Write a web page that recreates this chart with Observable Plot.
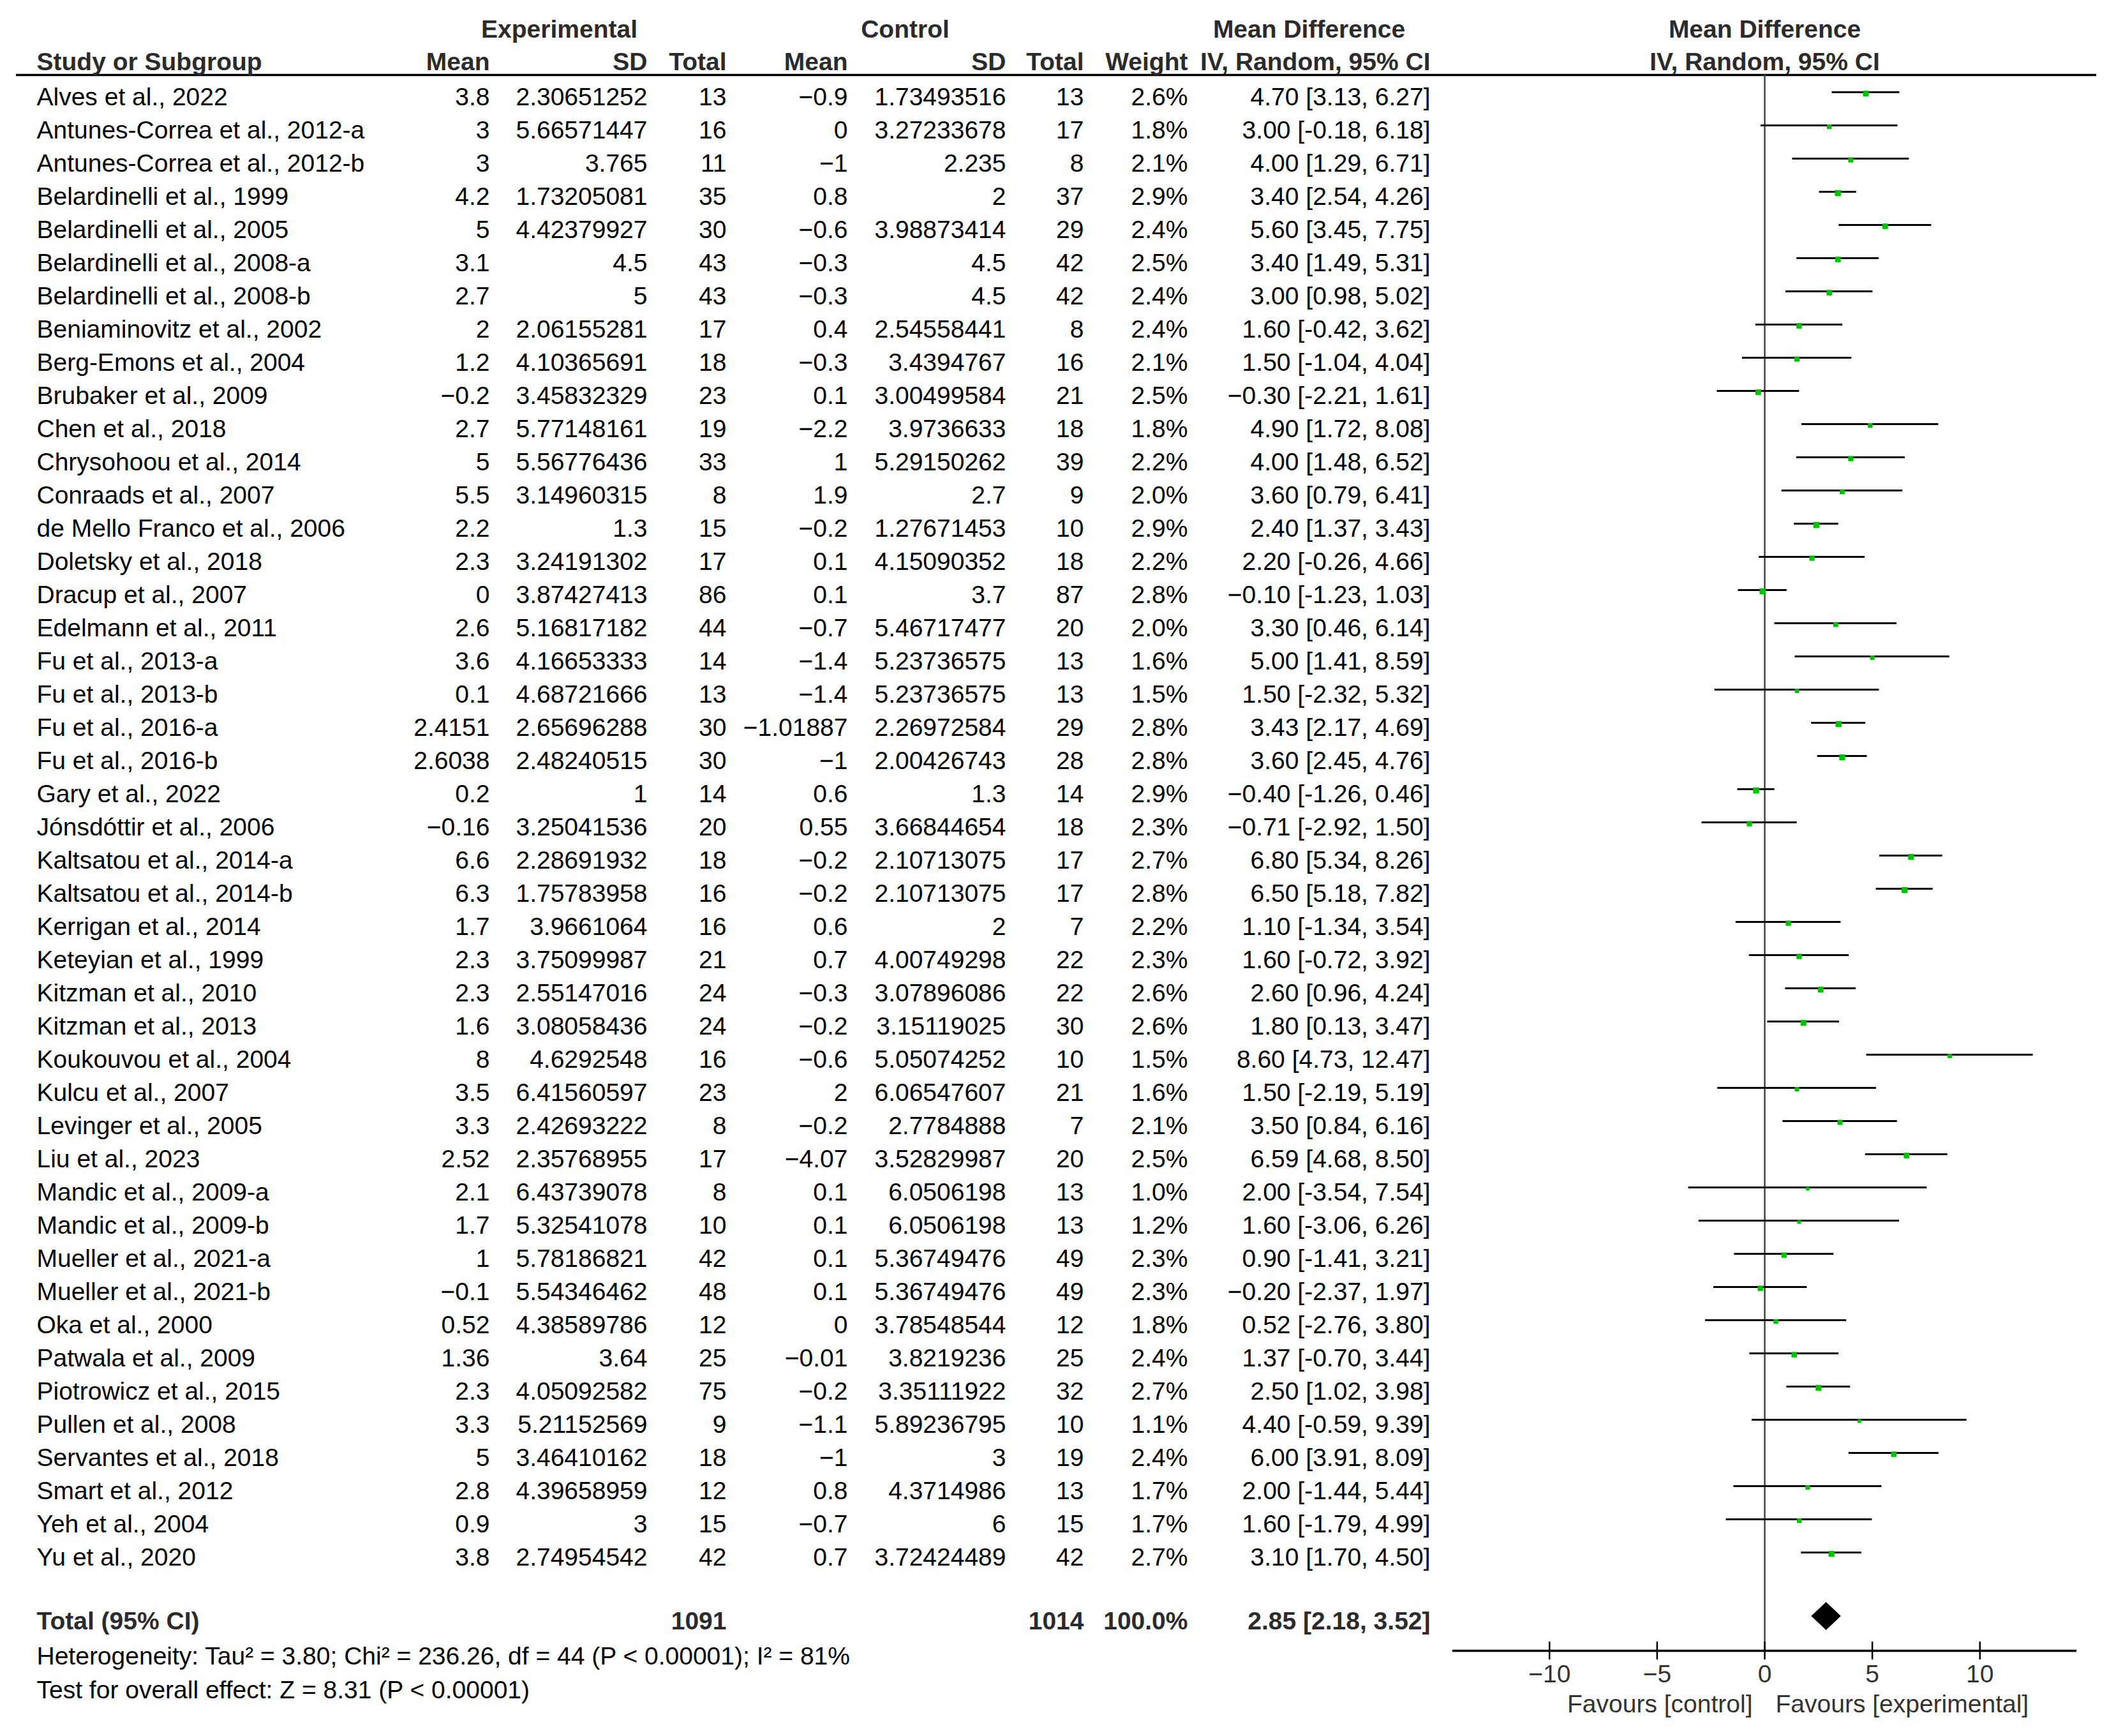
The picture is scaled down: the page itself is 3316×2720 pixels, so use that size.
<!DOCTYPE html>
<html>
<head>
<meta charset="utf-8">
<script src="https://cdn.jsdelivr.net/npm/d3@7"></script>
<script src="https://cdn.jsdelivr.net/npm/@observablehq/plot@0.6"></script>
<style>
html, body { margin: 0; padding: 0; background: #fff; }
#chart { position: relative; width: 3316px; height: 2720px; background: #fff; }
#chart svg { position: absolute; left: 0; top: 0; max-width: none; }
</style>
</head>
<body>
<div id="chart"></div>
<script>
// ---------------- DATA ----------------
const studies = [
  "Alves et al., 2022", "Antunes-Correa et al., 2012-a", "Antunes-Correa et al., 2012-b",
  "Belardinelli et al., 1999", "Belardinelli et al., 2005", "Belardinelli et al., 2008-a",
  "Belardinelli et al., 2008-b", "Beniaminovitz et al., 2002", "Berg-Emons et al., 2004",
  "Brubaker et al., 2009", "Chen et al., 2018", "Chrysohoou et al., 2014",
  "Conraads et al., 2007", "de Mello Franco et al., 2006", "Doletsky et al., 2018",
  "Dracup et al., 2007", "Edelmann et al., 2011", "Fu et al., 2013-a", "Fu et al., 2013-b",
  "Fu et al., 2016-a", "Fu et al., 2016-b", "Gary et al., 2022", "Jónsdóttir et al., 2006",
  "Kaltsatou et al., 2014-a", "Kaltsatou et al., 2014-b", "Kerrigan et al., 2014",
  "Keteyian et al., 1999", "Kitzman et al., 2010", "Kitzman et al., 2013",
  "Koukouvou et al., 2004", "Kulcu et al., 2007", "Levinger et al., 2005", "Liu et al., 2023",
  "Mandic et al., 2009-a", "Mandic et al., 2009-b", "Mueller et al., 2021-a",
  "Mueller et al., 2021-b", "Oka et al., 2000", "Patwala et al., 2009",
  "Piotrowicz et al., 2015", "Pullen et al., 2008", "Servantes et al., 2018",
  "Smart et al., 2012", "Yeh et al., 2004", "Yu et al., 2020"
];
const expMean = [3.8, 3, 3, 4.2, 5, 3.1, 2.7, 2, 1.2, -0.2, 2.7, 5, 5.5, 2.2, 2.3, 0, 2.6, 3.6, 0.1,
  2.4151, 2.6038, 0.2, -0.16, 6.6, 6.3, 1.7, 2.3, 2.3, 1.6, 8, 3.5, 3.3, 2.52, 2.1, 1.7, 1, -0.1,
  0.52, 1.36, 2.3, 3.3, 5, 2.8, 0.9, 3.8];
const expSD = [2.30651252, 5.66571447, 3.765, 1.73205081, 4.42379927, 4.5, 5, 2.06155281,
  4.10365691, 3.45832329, 5.77148161, 5.56776436, 3.14960315, 1.3, 3.24191302, 3.87427413,
  5.16817182, 4.16653333, 4.68721666, 2.65696288, 2.48240515, 1, 3.25041536, 2.28691932,
  1.75783958, 3.9661064, 3.75099987, 2.55147016, 3.08058436, 4.6292548, 6.41560597,
  2.42693222, 2.35768955, 6.43739078, 5.32541078, 5.78186821, 5.54346462, 4.38589786, 3.64,
  4.05092582, 5.21152569, 3.46410162, 4.39658959, 3, 2.74954542];
const expN = [13, 16, 11, 35, 30, 43, 43, 17, 18, 23, 19, 33, 8, 15, 17, 86, 44, 14, 13, 30, 30,
  14, 20, 18, 16, 16, 21, 24, 24, 16, 23, 8, 17, 8, 10, 42, 48, 12, 25, 75, 9, 18, 12, 15, 42];
const ctlMean = [-0.9, 0, -1, 0.8, -0.6, -0.3, -0.3, 0.4, -0.3, 0.1, -2.2, 1, 1.9, -0.2, 0.1, 0.1,
  -0.7, -1.4, -1.4, -1.01887, -1, 0.6, 0.55, -0.2, -0.2, 0.6, 0.7, -0.3, -0.2, -0.6, 2, -0.2,
  -4.07, 0.1, 0.1, 0.1, 0.1, 0, -0.01, -0.2, -1.1, -1, 0.8, -0.7, 0.7];
const ctlSD = [1.73493516, 3.27233678, 2.235, 2, 3.98873414, 4.5, 4.5, 2.54558441, 3.4394767,
  3.00499584, 3.9736633, 5.29150262, 2.7, 1.27671453, 4.15090352, 3.7, 5.46717477, 5.23736575,
  5.23736575, 2.26972584, 2.00426743, 1.3, 3.66844654, 2.10713075, 2.10713075, 2, 4.00749298,
  3.07896086, 3.15119025, 5.05074252, 6.06547607, 2.7784888, 3.52829987, 6.0506198, 6.0506198,
  5.36749476, 5.36749476, 3.78548544, 3.8219236, 3.35111922, 5.89236795, 3, 4.3714986, 6,
  3.72424489];
const ctlN = [13, 17, 8, 37, 29, 42, 42, 8, 16, 21, 18, 39, 9, 10, 18, 87, 20, 13, 13, 29, 28, 14,
  18, 17, 17, 7, 22, 22, 30, 10, 21, 7, 20, 13, 13, 49, 49, 12, 25, 32, 10, 19, 13, 15, 42];
const weight = [2.6, 1.8, 2.1, 2.9, 2.4, 2.5, 2.4, 2.4, 2.1, 2.5, 1.8, 2.2, 2.0, 2.9, 2.2, 2.8, 2.0,
  1.6, 1.5, 2.8, 2.8, 2.9, 2.3, 2.7, 2.8, 2.2, 2.3, 2.6, 2.6, 1.5, 1.6, 2.1, 2.5, 1.0, 1.2, 2.3,
  2.3, 1.8, 2.4, 2.7, 1.1, 2.4, 1.7, 1.7, 2.7];
const meanDiff = [4.70, 3.00, 4.00, 3.40, 5.60, 3.40, 3.00, 1.60, 1.50, -0.30, 4.90, 4.00, 3.60,
  2.40, 2.20, -0.10, 3.30, 5.00, 1.50, 3.43, 3.60, -0.40, -0.71, 6.80, 6.50, 1.10, 1.60, 2.60,
  1.80, 8.60, 1.50, 3.50, 6.59, 2.00, 1.60, 0.90, -0.20, 0.52, 1.37, 2.50, 4.40, 6.00, 2.00,
  1.60, 3.10];
const ciLow = [3.13, -0.18, 1.29, 2.54, 3.45, 1.49, 0.98, -0.42, -1.04, -2.21, 1.72, 1.48, 0.79,
  1.37, -0.26, -1.23, 0.46, 1.41, -2.32, 2.17, 2.45, -1.26, -2.92, 5.34, 5.18, -1.34, -0.72,
  0.96, 0.13, 4.73, -2.19, 0.84, 4.68, -3.54, -3.06, -1.41, -2.37, -2.76, -0.70, 1.02, -0.59,
  3.91, -1.44, -1.79, 1.70];
const ciHigh = [6.27, 6.18, 6.71, 4.26, 7.75, 5.31, 5.02, 3.62, 4.04, 1.61, 8.08, 6.52, 6.41, 3.43,
  4.66, 1.03, 6.14, 8.59, 5.32, 4.69, 4.76, 0.46, 1.50, 8.26, 7.82, 3.54, 3.92, 4.24, 3.47,
  12.47, 5.19, 6.16, 8.50, 7.54, 6.26, 3.21, 1.97, 3.80, 3.44, 3.98, 9.39, 8.09, 5.44, 4.99,
  4.50];

const totalExpN = 1091;
const totalCtlN = 1014;
const totalWeight = 100.0;
const totalMD = 2.85;
const totalLow = 2.18;
const totalHigh = 3.52;

const heterogeneityText = "Heterogeneity: Tau² = 3.80; Chi² = 236.26, df = 44 (P < 0.00001); I² = 81%";
const overallEffectText = "Test for overall effect: Z = 8.31 (P < 0.00001)";
const xTicks = [-10, -5, 0, 5, 10];
const xDomain = [-14.5, 14.5];
const favoursLeft = "Favours [control]";
const favoursRight = "Favours [experimental]";

// ---------------- LAYOUT ----------------
const W = 3316, H = 2720;
const FONT = "'Liberation Sans', Arial, Helvetica, sans-serif";
const FS = 39;
const HEAD = "#2b2b2b";
const col = { label: 57, expMean: 767, expSD: 1014, expN: 1138, ctlMean: 1328, ctlSD: 1576,
  ctlN: 1698, weight: 1861, ci: 2241, expGroup: 876, ctlGroup: 1418, mdGroup: 2051,
  ruleLeft: 25, ruleRight: 3285 };
const rowY = { group: -2.04, sub: -1.06, rule: -0.673, total: 45.92, diamond: 45.76,
  diamondHalf: 0.413, het: 46.98, test: 48.0, axis: 46.81, tickHalf: 0.27, tickLabel: 47.52,
  favours: 48.42 };
const yScale = { type: "linear", domain: [0, 44], range: [152, 2440], axis: null };

// ---------------- HELPERS ----------------
const fmt = v => String(v).replace(/^-/, "\u2212");
const ciText = (m, l, h) => `${fmt(m.toFixed(2))} [${l.toFixed(2)}, ${h.toFixed(2)}]`;

const rows = studies.map((study, i) => ({
  i, study,
  expMean: expMean[i], expSD: expSD[i], expN: expN[i],
  ctlMean: ctlMean[i], ctlSD: ctlSD[i], ctlN: ctlN[i],
  weight: weight[i], md: meanDiff[i], lo: ciLow[i], hi: ciHigh[i]
}));

const numCols = [
  [col.expMean, d => fmt(d.expMean)],
  [col.expSD, d => fmt(d.expSD)],
  [col.expN, d => String(d.expN)],
  [col.ctlMean, d => fmt(d.ctlMean)],
  [col.ctlSD, d => fmt(d.ctlSD)],
  [col.ctlN, d => String(d.ctlN)],
  [col.weight, d => d.weight.toFixed(1) + "%"],
  [col.ci, d => ciText(d.md, d.lo, d.hi)]
];

const headerSub = [
  { x: col.label, t: "Study or Subgroup", a: "start" },
  { x: col.expMean, t: "Mean", a: "end" },
  { x: col.expSD, t: "SD", a: "end" },
  { x: col.expN, t: "Total", a: "end" },
  { x: col.ctlMean, t: "Mean", a: "end" },
  { x: col.ctlSD, t: "SD", a: "end" },
  { x: col.ctlN, t: "Total", a: "end" },
  { x: col.weight, t: "Weight", a: "end" },
  { x: col.ci, t: "IV, Random, 95% CI", a: "end" }
];
const headerGroup = [
  { x: col.expGroup, t: "Experimental" },
  { x: col.ctlGroup, t: "Control" },
  { x: col.mdGroup, t: "Mean Difference" }
];
const totalCells = [
  { x: col.label, t: "Total (95% CI)", a: "start" },
  { x: col.expN, t: String(totalExpN), a: "end" },
  { x: col.ctlN, t: String(totalCtlN), a: "end" },
  { x: col.weight, t: totalWeight.toFixed(1) + "%", a: "end" },
  { x: col.ci, t: ciText(totalMD, totalLow, totalHigh), a: "end" }
];

const txt = { fontSize: FS, fontFamily: FONT };

// ---------------- TABLE PLOT ----------------
const tablePlot = Plot.plot({
  width: W, height: H, margin: 0,
  x: { type: "identity", axis: null },
  y: yScale,
  style: { fontFamily: FONT, background: "transparent", maxWidth: "none", overflow: "visible" },
  marks: [
    Plot.ruleY([rowY.rule], { x1: col.ruleLeft, x2: col.ruleRight, stroke: "#000", strokeWidth: 3.5 }),
    Plot.text(headerGroup, { x: "x", y: rowY.group, text: "t", textAnchor: "middle", fontWeight: "bold", fill: HEAD, ...txt }),
    Plot.text(headerSub.filter(d => d.a === "start"), { x: "x", y: rowY.sub, text: "t", textAnchor: "start", fontWeight: "bold", fill: HEAD, ...txt }),
    Plot.text(headerSub.filter(d => d.a === "end"), { x: "x", y: rowY.sub, text: "t", textAnchor: "end", fontWeight: "bold", fill: HEAD, ...txt }),
    Plot.text(rows, { x: col.label, y: "i", text: "study", textAnchor: "start", fill: "#000", ...txt }),
    ...numCols.map(([x, f]) => Plot.text(rows, { x, y: "i", text: f, textAnchor: "end", fill: "#000", ...txt })),
    Plot.text(totalCells.filter(d => d.a === "start"), { x: "x", y: rowY.total, text: "t", textAnchor: "start", fontWeight: "bold", fill: HEAD, ...txt }),
    Plot.text(totalCells.filter(d => d.a === "end"), { x: "x", y: rowY.total, text: "t", textAnchor: "end", fontWeight: "bold", fill: HEAD, ...txt }),
    Plot.text([heterogeneityText], { x: col.label, y: rowY.het, text: d => d, textAnchor: "start", fill: "#000", ...txt }),
    Plot.text([overallEffectText], { x: col.label, y: rowY.test, text: d => d, textAnchor: "start", fill: "#000", ...txt })
  ]
});

// ---------------- FOREST PLOT ----------------
const diamond = [
  { x: totalLow, y: rowY.diamond },
  { x: totalMD, y: rowY.diamond - rowY.diamondHalf },
  { x: totalHigh, y: rowY.diamond },
  { x: totalMD, y: rowY.diamond + rowY.diamondHalf },
  { x: totalLow, y: rowY.diamond }
];

const forestPlot = Plot.plot({
  width: W, height: H, margin: 0,
  x: { domain: xDomain, range: [2276, 3254], axis: null },
  y: yScale,
  r: { type: "sqrt", domain: [0, 3], range: [0, 5.4] },
  style: { fontFamily: FONT, background: "transparent", maxWidth: "none", overflow: "visible" },
  marks: [
    Plot.text(["Mean Difference"], { x: 0, y: rowY.group, text: d => d, textAnchor: "middle", fontWeight: "bold", fill: HEAD, ...txt }),
    Plot.text(["IV, Random, 95% CI"], { x: 0, y: rowY.sub, text: d => d, textAnchor: "middle", fontWeight: "bold", fill: HEAD, ...txt }),
    Plot.ruleX([0], { y1: rowY.rule, y2: rowY.axis, stroke: "#444", strokeWidth: 2.5 }),
    Plot.ruleY(rows, { x1: "lo", x2: "hi", y: "i", dy: -8, stroke: "#000", strokeWidth: 3 }),
    Plot.dot(rows, { x: "md", y: "i", r: "weight", symbol: "square", fill: "#00c000", stroke: "none", dy: -6 }),
    Plot.line(diamond, { x: "x", y: "y", fill: "#000", stroke: "#000", strokeWidth: 1 }),
    Plot.ruleY([rowY.axis], { x1: xDomain[0], x2: xDomain[1], stroke: "#000", strokeWidth: 3.5 }),
    Plot.ruleX(xTicks, { x: d => d, y1: rowY.axis - rowY.tickHalf, y2: rowY.axis + rowY.tickHalf, stroke: "#000", strokeWidth: 2.5 }),
    Plot.text(xTicks, { x: d => d, y: rowY.tickLabel, text: d => fmt(d), textAnchor: "middle", fill: "#333", ...txt }),
    Plot.text([favoursLeft], { x: 0, dx: -19, y: rowY.favours, text: d => d, textAnchor: "end", fill: "#333", ...txt }),
    Plot.text([favoursRight], { x: 0, dx: 17, y: rowY.favours, text: d => d, textAnchor: "start", fill: "#333", ...txt })
  ]
});

const chart = document.getElementById("chart");
chart.appendChild(tablePlot);
chart.appendChild(forestPlot);
</script>
</body>
</html>
